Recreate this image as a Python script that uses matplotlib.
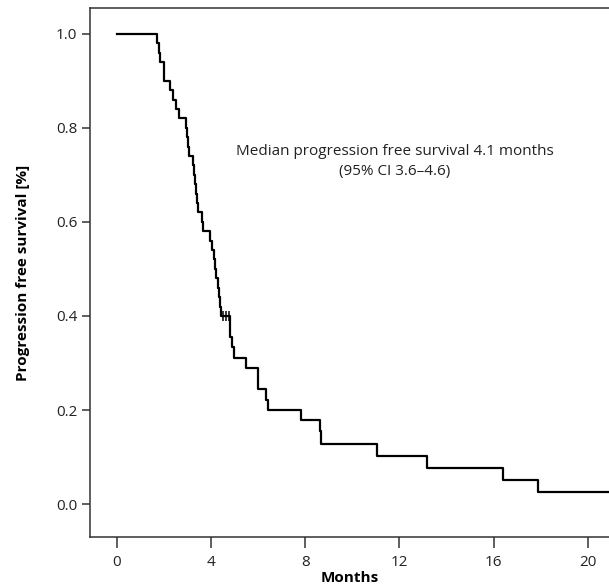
import matplotlib
matplotlib.use("Agg")
import matplotlib.pyplot as plt

# Kaplan-Meier steps: time of drop (months) -> survival after it
event_times = [0.0, 1.70, 1.77, 1.83, 2.00, 2.25, 2.38, 2.52, 2.65, 2.92, 2.98,
               3.02, 3.06, 3.22, 3.26, 3.30, 3.36, 3.40, 3.45, 3.62, 3.66, 3.95,
               4.05, 4.12, 4.18, 4.22, 4.28, 4.33, 4.38, 4.42, 4.80, 4.88, 4.97,
               5.47, 6.00, 6.33, 6.40, 7.80, 8.62, 8.68, 11.05, 13.15, 16.40,
               17.88]
survival = [1.0, 0.98, 0.96, 0.94, 0.90, 0.88, 0.86, 0.84, 0.82, 0.80, 0.78,
            0.76, 0.74, 0.72, 0.70, 0.68, 0.66, 0.64, 0.62, 0.60, 0.58, 0.56,
            0.54, 0.52, 0.50, 0.48, 0.46, 0.44, 0.42, 0.40, 0.355, 0.333, 0.311,
            0.289, 0.245, 0.222, 0.200, 0.178, 0.155, 0.128, 0.103, 0.077, 0.051,
            0.026]
last_follow_up = 21.5
censor_times = [4.52, 4.63, 4.75]
censor_surv = [0.40, 0.40, 0.40]

x_ticks = [0, 4, 8, 12, 16, 20]
y_ticks = [0.0, 0.2, 0.4, 0.6, 0.8, 1.0]

AXIS_COLOR = "#333333"
plt.rcParams["font.family"] = ["Open Sans", "DejaVu Sans"]

fig = plt.figure(figsize=(6.09, 5.86), dpi=100)
fig.patch.set_facecolor("white")
ax = fig.add_axes([0.1486, 0.0836, 0.8514, 0.903])

xs = event_times + [last_follow_up]
ys = survival + [survival[-1]]
ax.step(xs, ys, where="post", color="black", linewidth=1.6, zorder=3)
ax.plot(censor_times, censor_surv, linestyle="none", marker="|", markersize=7,
        markeredgewidth=1.1, color="black", zorder=4)

ax.set_xlim(-1.125, 20.9)
ax.set_ylim(-0.07, 1.055)
ax.set_xticks(x_ticks)
ax.set_yticks(y_ticks)
ax.set_yticklabels([f"{v:.1f}" for v in y_ticks])

ax.spines["right"].set_visible(False)
for side in ("left", "bottom", "top"):
    ax.spines[side].set_color(AXIS_COLOR)
    ax.spines[side].set_linewidth(1.1)
ax.tick_params(axis="both", direction="out", length=6, width=1.1,
               colors=AXIS_COLOR, labelsize=11, labelcolor="#222222")
ax.tick_params(axis="x", length=8, pad=5)

ax.set_xlabel("Months", fontsize=11, fontweight="bold", labelpad=1)
ax.set_ylabel("Progression free survival [%]", fontsize=11, fontweight="bold",
              labelpad=19)

ax.text(11.8, 0.728, "Median progression free survival 4.1 months\n(95% CI 3.6\u20134.6)",
        ha="center", va="center", fontsize=11, color="#222222", linespacing=1.45)

fig.savefig("out.png", dpi=100, facecolor=fig.get_facecolor())
